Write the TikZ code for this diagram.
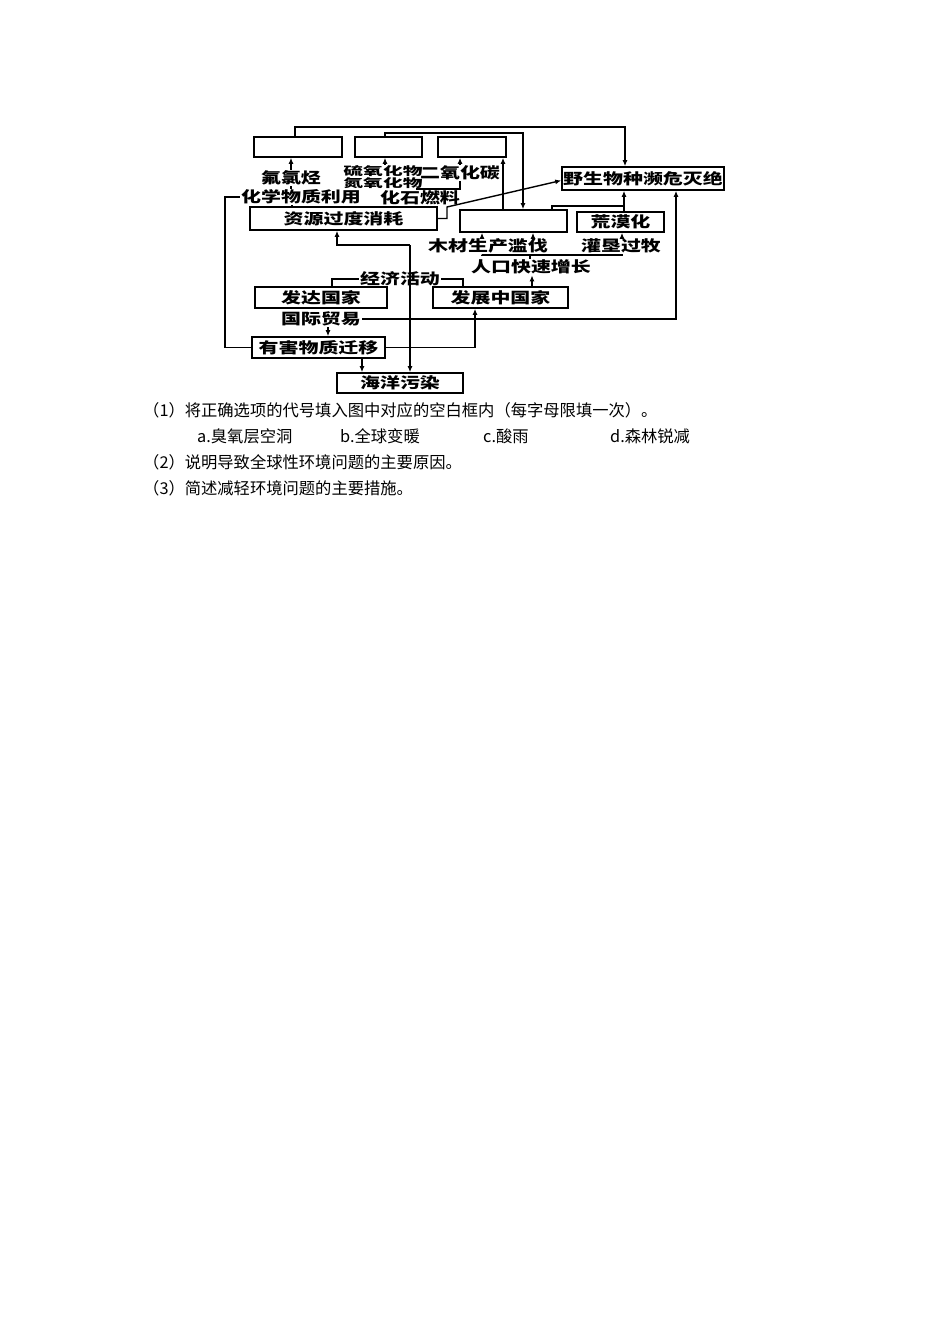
\documentclass[tikz,border=0pt]{standalone}
\usepackage{fontspec}
\usetikzlibrary{arrows.meta}
\newfontfamily\dgfont[FakeStretch=1.33]{Noto Sans CJK SC}
\newfontfamily\dgwide[FakeStretch=1.72]{Noto Sans CJK SC}
\newfontfamily\qtfont{Noto Sans CJK SC}
\begin{document}
\begin{tikzpicture}[x=1pt,y=-1pt,
  box/.style={draw,line width=1.6pt,inner sep=0pt,font=\dgfont\bfseries\fontsize{15}{15}\selectfont},
  lbl/.style={inner sep=1pt,font=\dgfont\bfseries\fontsize{15}{15}\selectfont},
  slbl/.style={inner sep=0.5pt,font=\dgwide\bfseries\fontsize{11.5}{11.5}\selectfont},
  qline/.style={anchor=west,inner sep=0pt,font=\qtfont\fontsize{16.3}{16.3}\selectfont},
  conn/.style={line width=1.4pt},
  arr/.style={line width=1.4pt,-{Latex[length=6pt,width=5pt]}}]
\useasboundingbox (0,0) rectangle (950,1344);
\fill[white] (0,0) rectangle (950,1344);
% boxes
\node[box,minimum width=88pt,minimum height=20pt] (b1) at (298,147) {};
\node[box,minimum width=67pt,minimum height=20pt] (b2) at (388.5,147) {};
\node[box,minimum width=68pt,minimum height=20pt] (b3) at (472,147) {};
\node[box,minimum width=162pt,minimum height=23pt] (wild) at (643,178.5) {野生物种濒危灭绝};
\node[box,minimum width=187pt,minimum height=23pt] (res) at (343.5,218.5) {资源过度消耗};
\node[box,minimum width=107pt,minimum height=22pt] (bd) at (513.5,221) {};
\node[box,minimum width=87pt,minimum height=20pt] (des) at (620.5,222) {荒漠化};
\node[box,minimum width=132pt,minimum height=21pt] (dev) at (321,297.5) {发达国家};
\node[box,minimum width=135pt,minimum height=21pt] (dvg) at (500.5,297.5) {发展中国家};
\node[box,minimum width=133pt,minimum height=21pt] (harm) at (318.5,347.5) {有害物质迁移};
\node[box,minimum width=126pt,minimum height=20pt] (sea) at (400,383) {海洋污染};
% labels
\node[lbl] (fcl) at (291,178) {氟氯烃};
\node[slbl] (so) at (383,171) {硫氧化物};
\node[slbl] (no) at (383,183.5) {氮氧化物};
\node[lbl] (co2) at (460,173) {二氧化碳};
\node[lbl] (chem) at (301,197) {化学物质利用};
\node[lbl] (fossil) at (420,198) {化石燃料};
\node[lbl] (wood) at (488,246) {木材生产滥伐};
\node[lbl] (graze) at (621,246) {灌垦过牧};
\node[lbl] (pop) at (531,267) {人口快速增长};
\node[lbl] (econ) at (400,279) {经济活动};
\node[lbl] (trade) at (321,319) {国际贸易};
% bend coordinates
\coordinate (c1a) at (295,127);
\coordinate (c1b) at (625,127);
\coordinate (c2a) at (385,133);
\coordinate (c2b) at (523,133);
\coordinate (c3) at (503,0);
\coordinate (c5) at (292,0);
\coordinate (c6a) at (417,189);
\coordinate (c6b) at (460,189);
\coordinate (c7a) at (447,218.5);
\coordinate (c7b) at (447,207);
\coordinate (c8a) at (552,206);
\coordinate (c8b) at (624,206);
\coordinate (c9a) at (482,0);
\coordinate (c9b) at (533,0);
\coordinate (c10) at (622,0);
\coordinate (b10a) at (482,255);
\coordinate (b10b) at (622,255);
\coordinate (c11) at (530,255);
\coordinate (c12) at (532,0);
\coordinate (e1) at (332,279);
\coordinate (e2) at (463,279);
\coordinate (f1) at (337,245);
\coordinate (f2) at (410,245);
\coordinate (g1) at (328,0);
\coordinate (g2) at (676,0);
\coordinate (h1) at (475,0);
\coordinate (k1) at (225,0);
\coordinate (m1) at (362,0);
% connectors
\draw[arr] (c1a |- b1.north) -- (c1a) -- (c1b) -- (c1b |- wild.north);
\draw[arr] (c2a |- b2.north) -- (c2a) -- (c2b) -- (c2b |- bd.north);
\draw[arr] (c3 |- bd.north) -- (c3 |- b3.south);
\draw[arr] (fcl.north) -- (fcl.north |- b1.south);
\draw[arr] (so.north -| c2a) -- (c2a |- b2.south);
\draw[arr] (co2.north) -- (co2.north |- b3.south);
\draw[conn] (fcl.south) -- (fcl.south |- chem.north);
\draw[conn] (c5 |- chem.south) -- (c5 |- res.north);
\draw[conn] (c6a |- fossil.north) -- (c6a) -- (c6b) -- (c6b |- co2.south);
\draw[conn] (c6a |- fossil.south) -- (c6a |- res.north);
\draw[arr] (res.east) -- (c7a) -- (c7b) -- ([yshift=-2pt]wild.west);
\draw[conn] (c8a |- bd.north) -- (c8a) -- (c8b);
\draw[arr] (c8b |- des.north) -- (c8b |- wild.south);
\draw[arr] (c9a |- wood.north) -- (c9a |- bd.south);
\draw[arr] (c9b |- wood.north) -- (c9b |- bd.south);
\draw[arr] (c10 |- graze.north) -- (c10 |- des.south);
\draw[conn] (b10a |- wood.south) -- (b10a) -- (b10b) -- (b10b |- graze.south);
\draw[conn] (c11) -- (c11 |- pop.north);
\draw[arr] (c12 |- dvg.north) -- (c12 |- pop.south);
\draw[conn] (econ.west) -- (e1) -- (e1 |- dev.north);
\draw[conn] (econ.east) -- (e2) -- (e2 |- dvg.north);
\draw[arr] (f2) -- (f1) -- (f1 |- res.south);
\draw[arr] (f2) -- (f2 |- sea.north);
\draw[arr] (g1 |- trade.south) -- (g1 |- harm.north);
\draw[arr] (trade.east) -- (g2 |- trade.east) -- (g2 |- wild.south);
\draw[arr] (harm.east) -- (h1 |- harm.east) -- (h1 |- dvg.south);
\draw[conn] (harm.west) -- (k1 |- harm.west) -- (k1 |- chem.west) -- (chem.west);
\draw[arr] (m1 |- harm.south) -- (m1 |- sea.north);
% question text
\node[qline] (q1) at (143,410) {（1）将正确选项的代号填入图中对应的空白框内（每字母限填一次）。};
\node[qline] (qa) at (197,436) {a.臭氧层空洞};
\node[qline] (qb) at (340,436) {b.全球变暖};
\node[qline] (qc) at (483,436) {c.酸雨};
\node[qline] (qd) at (610,436) {d.森林锐减};
\node[qline] (q2) at (143,462) {（2）说明导致全球性环境问题的主要原因。};
\node[qline] (q3) at (143,488) {（3）简述减轻环境问题的主要措施。};
\end{tikzpicture}
\end{document}
